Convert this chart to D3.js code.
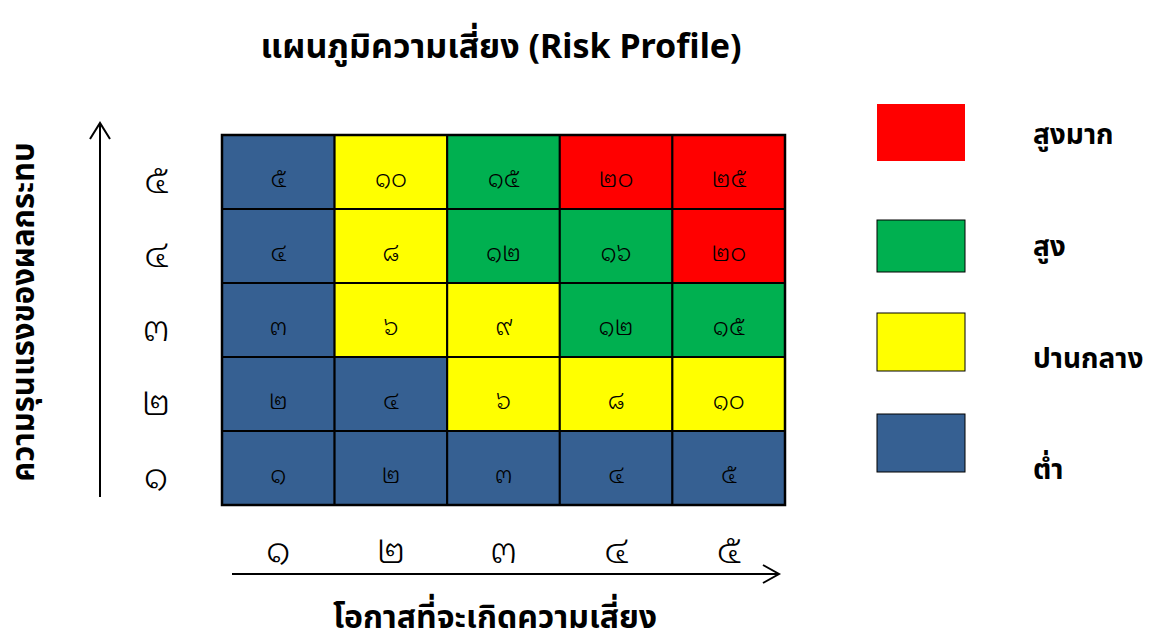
<!DOCTYPE html>
<html>
<head>
<meta charset="utf-8">
<script src="https://cdn.jsdelivr.net/npm/d3@7"></script>
<style>
  body { margin: 0; background: #fff; }
  svg text { font-family: "Noto Sans", "Noto Sans Thai", "Tahoma", sans-serif; fill: #000; }
  svg text.num { font-family: "Noto Sans Thai Looped", "Noto Serif Thai", "Noto Sans Thai", sans-serif; font-weight: 300; }
  .title, .axis-title, .legend-label { font-weight: bold; }
</style>
</head>
<body>
<div id="chart"></div>
<script>
  // likelihood (x) and impact (y) levels
  const likelihood = [1, 2, 3, 4, 5];
  const impact = [1, 2, 3, 4, 5];

  // cell scores, rows from impact 5 down to impact 1
  const scores = [
    [5, 10, 15, 20, 25],
    [4, 8, 12, 16, 20],
    [3, 6, 9, 12, 15],
    [2, 4, 6, 8, 10],
    [1, 2, 3, 4, 5],
  ];

  // risk level of each cell, same order as scores
  const levels = [
    ["low", "mid", "high", "vhigh", "vhigh"],
    ["low", "mid", "high", "high", "vhigh"],
    ["low", "mid", "mid", "high", "high"],
    ["low", "low", "mid", "mid", "mid"],
    ["low", "low", "low", "low", "low"],
  ];

  const legendKeys = ["vhigh", "high", "mid", "low"];
  const legendLabels = ["สูงมาก", "สูง", "ปานกลาง", "ต่ำ"];
  const levelColors = ["#FF0000", "#00B050", "#FFFF00", "#366092"];

  const thaiDigits = "๐๑๒๓๔๕๖๗๘๙";
  const toThai = (n) => String(n).replace(/\d/g, (d) => thaiDigits[+d]);

  const width = 1165;
  const height = 637;
  const grid = { left: 222, top: 135, right: 785, bottom: 505 };

  const svg = d3
    .select("#chart")
    .append("svg")
    .attr("width", width)
    .attr("height", height);

  const x = d3
    .scaleBand()
    .domain(likelihood)
    .range([grid.left, grid.right]);

  const y = d3
    .scaleBand()
    .domain(impact.slice().reverse())
    .range([grid.top, grid.bottom]);

  const color = d3.scaleOrdinal().domain(legendKeys).range(levelColors);

  // flatten cells
  const cells = [];
  scores.forEach((row, r) => {
    row.forEach((v, c) => {
      cells.push({
        x: likelihood[c],
        y: impact[impact.length - 1 - r],
        score: v,
        level: levels[r][c],
      });
    });
  });

  // title
  svg
    .append("text")
    .attr("class", "title")
    .attr("x", 501)
    .attr("y", 45)
    .attr("text-anchor", "middle")
    .attr("dominant-baseline", "central")
    .style("font-size", "34px")
    .text("แผนภูมิความเสี่ยง (Risk Profile)");

  // cells
  const cell = svg
    .selectAll("g.cell")
    .data(cells)
    .join("g")
    .attr("class", "cell");

  cell
    .append("rect")
    .attr("x", (d) => x(d.x))
    .attr("y", (d) => y(d.y))
    .attr("width", x.bandwidth())
    .attr("height", y.bandwidth())
    .attr("fill", (d) => color(d.level))
    .attr("stroke", "#000")
    .attr("stroke-width", 2);

  cell
    .append("text")
    .attr("class", "num")
    .attr("x", (d) => x(d.x) + x.bandwidth() / 2)
    .attr("y", (d) => y(d.y) + y.bandwidth() / 2 + 3.5)
    .attr("text-anchor", "middle")
    .attr("dominant-baseline", "central")
    .style("font-size", "25px")
    .text((d) => toThai(d.score));

  // outer border
  svg
    .append("rect")
    .attr("x", grid.left)
    .attr("y", grid.top)
    .attr("width", grid.right - grid.left)
    .attr("height", grid.bottom - grid.top)
    .attr("fill", "none")
    .attr("stroke", "#000")
    .attr("stroke-width", 2.5);

  // y tick labels
  svg
    .selectAll("text.ytick")
    .data(impact)
    .join("text")
    .attr("class", "ytick num")
    .attr("x", 156)
    .attr("y", (d) => y(d) + y.bandwidth() / 2 + 3)
    .attr("text-anchor", "middle")
    .attr("dominant-baseline", "central")
    .style("font-size", "38px")
    .text((d) => toThai(d));

  // x tick labels
  svg
    .selectAll("text.xtick")
    .data(likelihood)
    .join("text")
    .attr("class", "xtick num")
    .attr("x", (d) => x(d) + x.bandwidth() / 2)
    .attr("y", 545)
    .attr("text-anchor", "middle")
    .attr("dominant-baseline", "central")
    .style("font-size", "38px")
    .text((d) => toThai(d));

  // arrows
  const arrow = svg.append("g").attr("stroke", "#000").attr("stroke-width", 2).attr("fill", "none");
  arrow.append("line").attr("x1", 100).attr("y1", 497).attr("x2", 100).attr("y2", 123);
  arrow.append("polyline").attr("points", "90,139 100,123 110,139");
  arrow.append("line").attr("x1", 232).attr("y1", 574).attr("x2", 779).attr("y2", 574);
  arrow.append("polyline").attr("points", "763,565 779,574 763,583");

  // axis titles
  svg
    .append("text")
    .attr("class", "axis-title")
    .attr("x", 495)
    .attr("y", 615)
    .attr("text-anchor", "middle")
    .attr("dominant-baseline", "central")
    .style("font-size", "32px")
    .text("โอกาสที่จะเกิดความเสี่ยง");

  svg
    .append("text")
    .attr("class", "axis-title")
    .attr("transform", "translate(22,312) rotate(-90)")
    .attr("text-anchor", "middle")
    .attr("dominant-baseline", "central")
    .style("font-size", "31px")
    .text("ความรุนแรงของผลกระทบ");

  // legend
  const legendY = [104, 220, 313, 414];
  const legendH = [57, 52, 58, 58];
  const legend = svg
    .selectAll("g.legend")
    .data(legendKeys)
    .join("g")
    .attr("class", "legend");

  legend
    .append("rect")
    .attr("x", 877)
    .attr("y", (d, i) => legendY[i])
    .attr("width", 88)
    .attr("height", (d, i) => legendH[i])
    .attr("fill", (d) => color(d))
    .attr("stroke", (d, i) => (i === 0 ? "none" : "#000"))
    .attr("stroke-width", 1);

  legend
    .append("text")
    .attr("class", "legend-label")
    .attr("x", 1033)
    .attr("y", (d, i) => [133, 245, 357, 468][i])
    .attr("dominant-baseline", "central")
    .style("font-size", "28px")
    .text((d, i) => legendLabels[i]);
</script>
</body>
</html>
